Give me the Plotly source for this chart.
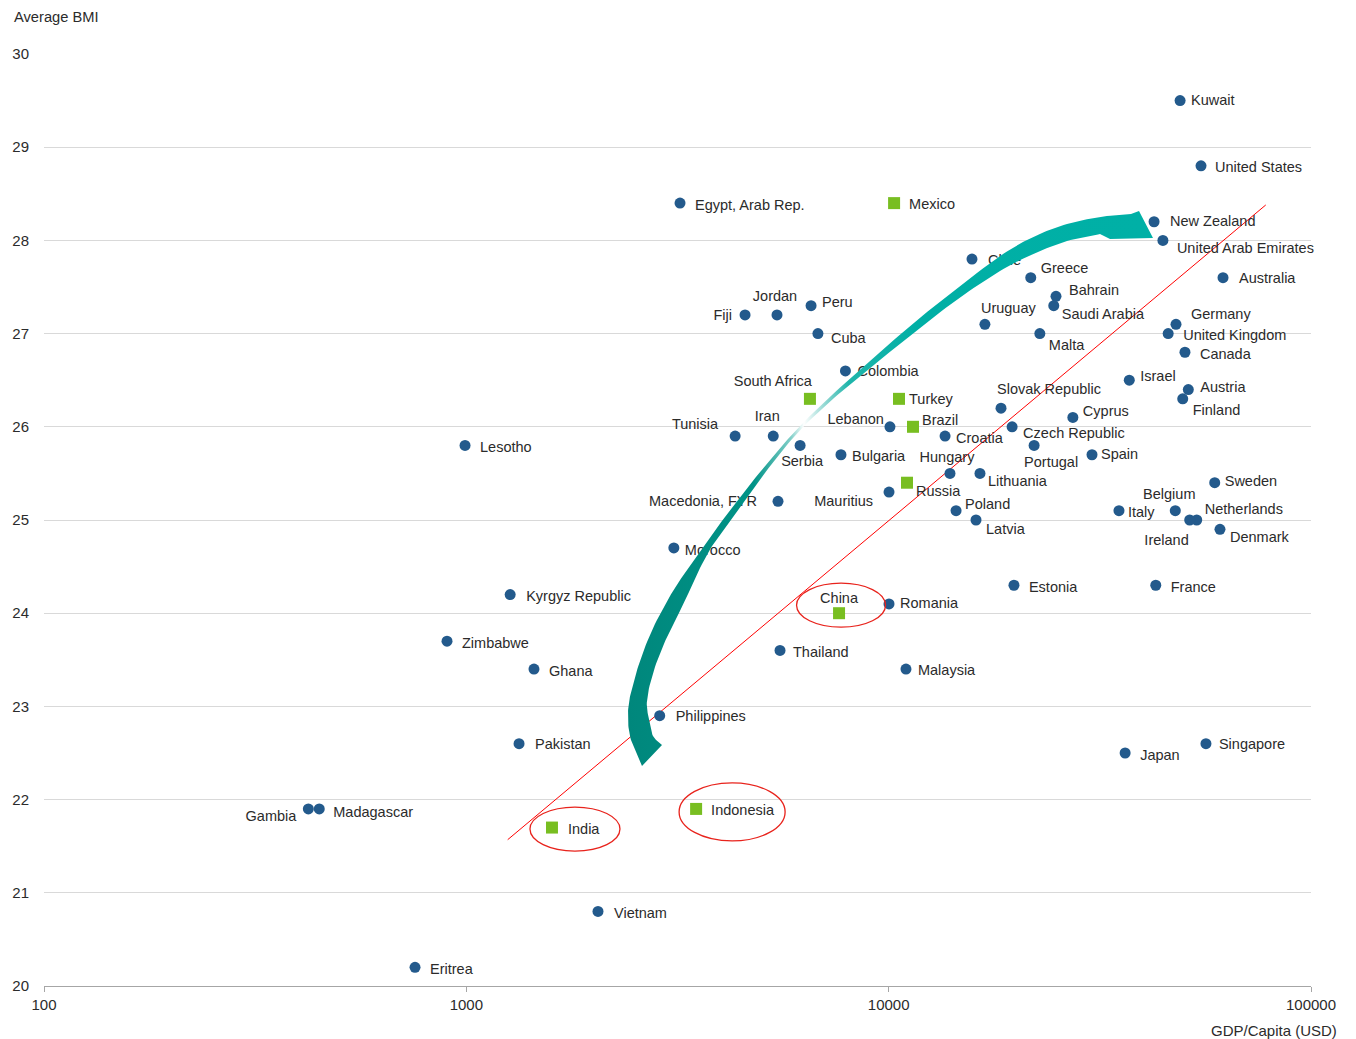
import math
import plotly.graph_objects as go

# emerging markets (green squares)
em_countries = ["Mexico", "South Africa", "Turkey", "Brazil", "Russia", "China", "Indonesia", "India"]
em_gdp = [10300, 6510, 10580, 11420, 11050, 7630, 3500, 1595]
em_bmi = [28.4, 26.3, 26.3, 26.0, 25.4, 24.0, 21.9, 21.7]

# all other countries (blue dots)
other_countries = [
    "Kuwait", "United States", "Egypt, Arab Rep.", "New Zealand", "United Arab Emirates",
    "Chile", "Greece", "Australia", "Bahrain", "Saudi Arabia", "Peru", "Fiji", "Jordan",
    "Cuba", "Uruguay", "Malta", "Germany", "United Kingdom", "Canada", "Colombia",
    "Israel", "Austria", "Finland", "Slovak Republic", "Cyprus", "Lebanon",
    "Czech Republic", "Tunisia", "Iran", "Croatia", "Lesotho", "Serbia", "Portugal",
    "Bulgaria", "Spain", "Hungary", "Lithuania", "Sweden", "Mauritius", "Macedonia, FYR",
    "Poland", "Italy", "Belgium", "Latvia", "Netherlands", "Ireland", "Denmark",
    "Morocco", "Estonia", "France", "Kyrgyz Republic", "Romania", "Zimbabwe", "Thailand",
    "Ghana", "Malaysia", "Philippines", "Pakistan", "Japan", "Singapore", "Gambia",
    "Madagascar", "Vietnam", "Eritrea",
]
other_gdp = [
    48980, 54900, 3206, 42500, 44600,
    15750, 21700, 61900, 24900, 24600, 6550, 4570, 5440,
    6800, 16900, 22800, 47900, 45900, 50300, 7900,
    37130, 51230, 49690, 18450, 27300, 10070,
    19600, 4330, 5330, 13600, 993, 6170, 22100,
    7710, 30300, 13970, 16450, 59160, 10020, 5470,
    14440, 35100, 47720, 16100, 53630, 51620, 60880,
    3100, 19800, 42900, 1270, 10020, 900, 5530,
    1446, 10990, 2870, 1333, 36300, 56400, 422.6,
    448.5, 2050, 756,
]
other_bmi = [
    29.5, 28.8, 28.4, 28.2, 28.0,
    27.8, 27.6, 27.6, 27.4, 27.3, 27.3, 27.2, 27.2,
    27.0, 27.1, 27.0, 27.1, 27.0, 26.8, 26.6,
    26.5, 26.4, 26.3, 26.2, 26.1, 26.0,
    26.0, 25.9, 25.9, 25.9, 25.8, 25.8, 25.8,
    25.7, 25.7, 25.5, 25.5, 25.4, 25.3, 25.2,
    25.1, 25.1, 25.1, 25.0, 25.0, 25.0, 24.9,
    24.7, 24.3, 24.3, 24.2, 24.1, 23.7, 23.6,
    23.4, 23.4, 22.9, 22.6, 22.5, 22.6, 21.9,
    21.9, 20.8, 20.2,
]

# trend line end points
trend_gdp = [1253, 78140]
trend_bmi = [21.57, 28.38]

BLUE = "#235a8c"
GREEN = "#78be21"
TEXT = "#2b2b2b"
FONT = "Liberation Sans, Arial, sans-serif"

# label placement: (anchor, dx px, dy px downwards); default right of the point
label_pos = {
    "Kuwait": ("left", 11, -1), "United States": ("left", 14, 1),
    "Egypt, Arab Rep.": ("left", 15, 1), "Mexico": ("left", 15, 0),
    "New Zealand": ("left", 16, -1), "United Arab Emirates": ("left", 14, 7),
    "Chile": ("left", 16, 0), "Greece": ("left", 10, -10), "Australia": ("left", 16, 0),
    "Bahrain": ("left", 13, -7), "Saudi Arabia": ("left", 8, 8), "Uruguay": ("left", -4, -17),
    "Malta": ("left", 9, 11), "Germany": ("left", 15, -11), "United Kingdom": ("left", 15, 1),
    "Canada": ("left", 15, 1), "Peru": ("left", 11, -4), "Jordan": ("center", -2, -20),
    "Fiji": ("right", -13, -1), "Cuba": ("left", 13, 4), "Colombia": ("left", 12, -1),
    "South Africa": ("right", 2, -18), "Turkey": ("left", 10, 0), "Israel": ("left", 11, -5),
    "Austria": ("left", 12, -3), "Finland": ("left", 10, 11), "Slovak Republic": ("left", -4, -20),
    "Cyprus": ("left", 10, -7), "Lebanon": ("right", -6, -8), "Brazil": ("left", 9, -7),
    "Czech Republic": ("left", 11, 6), "Tunisia": ("right", -17, -13), "Iran": ("center", -6, -21),
    "Croatia": ("left", 11, 1), "Lesotho": ("left", 15, 1), "Serbia": ("center", 2, 15),
    "Portugal": ("left", -10, 16), "Bulgaria": ("left", 11, 1), "Spain": ("left", 9, -1),
    "Hungary": ("center", -3, -17), "Lithuania": ("left", 8, 7), "Russia": ("left", 9, 8),
    "Sweden": ("left", 10, -2), "Mauritius": ("right", -16, 8), "Macedonia, FYR": ("right", -21, -1),
    "Poland": ("left", 9, -7), "Italy": ("left", 9, 1), "Belgium": ("center", -6, -17),
    "Latvia": ("left", 10, 8), "Netherlands": ("left", 8, -12), "Ireland": ("right", -1, 19),
    "Denmark": ("left", 10, 7), "Morocco": ("left", 11, 1), "Estonia": ("left", 15, 1),
    "France": ("left", 15, 1), "Kyrgyz Republic": ("left", 16, 1), "Romania": ("left", 11, -2),
    "China": ("center", 0, -16), "Zimbabwe": ("left", 15, 1), "Thailand": ("left", 13, 1),
    "Ghana": ("left", 15, 1), "Malaysia": ("left", 12, 0), "Philippines": ("left", 16, 0),
    "Pakistan": ("left", 16, 0), "Japan": ("left", 15, 1), "Singapore": ("left", 13, 0),
    "Gambia": ("right", -12, 6), "Madagascar": ("left", 14, 2), "Indonesia": ("left", 15, 0),
    "India": ("left", 16, 1), "Vietnam": ("left", 16, 1), "Eritrea": ("left", 15, 1),
}
anchor_to_pos = {"left": "middle right", "right": "middle left", "center": "middle center"}
LABEL_DROP = 2  # text baseline nudge

# highlighted countries: ellipse offset from the point and radii (px)
circled = {
    "China": (2, -8, 44.5, 22),
    "India": (23, 1.5, 45, 22),
    "Indonesia": (36, 3, 53, 29),
}

# plot area in page pixels (used by the overlay axes for labels and decorations)
X0, X1, Y0, Y1 = 44, 1311, 54, 986


def to_px(gdp):
    return X0 + (math.log10(gdp) - 2) * (X1 - X0) / 3


def to_py(bmi):
    return Y1 - (bmi - 20) * (Y1 - Y0) / 10


def smooth(pts, n=10):
    # catmull-rom through the outline guide points
    ext = [pts[0]] + pts + [pts[-1]]
    out = []
    for i in range(1, len(ext) - 2):
        p0, p1, p2, p3 = ext[i - 1], ext[i], ext[i + 1], ext[i + 2]
        for k in range(n):
            t = k / n
            t2, t3 = t * t, t * t * t
            out.append(tuple(
                0.5 * (2 * p1[j] + (-p0[j] + p2[j]) * t
                       + (2 * p0[j] - 5 * p1[j] + 4 * p2[j] - p3[j]) * t2
                       + (-p0[j] + 3 * p1[j] - 3 * p2[j] + p3[j]) * t3)
                for j in range(2)))
    out.append(pts[-1])
    return out


# curved arrow guide points, page pixels
arrow_outer = [(642, 766), (631, 740), (628, 720), (629, 702), (633, 685), (640, 661),
               (653, 628), (673, 591), (692, 563), (710, 537), (741, 496), (770, 460),
               (800, 426), (833, 394), (870, 361), (910, 326), (955, 290), (1000, 256),
               (1033, 237), (1067, 224), (1100, 217), (1131, 214)]
arrow_head = [(1139, 211), (1153, 238), (1110, 239)]
arrow_inner = [(1100, 234), (1067, 241), (1033, 254), (1000, 271), (955, 301), (910, 336),
               (870, 368), (834, 398), (802, 428), (774, 461), (746, 499), (716, 540),
               (700, 568), (684, 603), (667, 637), (654, 670), (647, 700), (649, 720),
               (653, 736), (662, 745)]

outline = smooth(arrow_outer) + arrow_head + smooth(arrow_inner)
outline.append(outline[0])
arrow_x = [p[0] for p in outline]
arrow_y = [p[1] for p in outline]

# country labels, placed next to their points
lab_x, lab_y, lab_text, lab_where = [], [], [], []
for names, gdps, bmis in [(other_countries, other_gdp, other_bmi), (em_countries, em_gdp, em_bmi)]:
    for name, g, b in zip(names, gdps, bmis):
        anchor, dx, dy = label_pos.get(name, ("left", 14, 0))
        lab_x.append(to_px(g) + dx)
        lab_y.append(to_py(b) + dy + LABEL_DROP)
        lab_text.append(name)
        lab_where.append(anchor_to_pos[anchor])

fig = go.Figure()

fig.add_trace(go.Scatter(
    x=trend_gdp, y=trend_bmi, mode="lines",
    line=dict(color="#ff0000", width=1), hoverinfo="skip",
))
fig.add_trace(go.Scatter(
    x=other_gdp, y=other_bmi, mode="markers", text=other_countries,
    marker=dict(color=BLUE, size=11, symbol="circle"),
))
fig.add_trace(go.Scatter(
    x=em_gdp, y=em_bmi, mode="markers", text=em_countries,
    marker=dict(color=GREEN, size=12, symbol="square"),
))
fig.add_trace(go.Scatter(
    x=lab_x, y=lab_y, xaxis="x2", yaxis="y2", mode="text",
    text=lab_text, textposition=lab_where, cliponaxis=False,
    textfont=dict(family=FONT, size=14.5, color=TEXT), hoverinfo="skip",
))
fig.add_trace(go.Scatter(
    x=arrow_x, y=arrow_y, xaxis="x2", yaxis="y2", mode="lines",
    line=dict(width=0), fill="toself", fillcolor="#00ada3",
    fillgradient=dict(type="horizontal", colorscale=[
        [0.0, "#00877c"], [0.24, "#009387"], [0.31, "#80cfc8"], [0.335, "#ffffff"],
        [0.37, "#9fdcd7"], [0.42, "#1fb5ab"], [0.55, "#00afa5"], [1.0, "#00b0a6"],
    ]),
    hoverinfo="skip",
))

annotations = [
    dict(x=0, y=1, xref="paper", yref="paper", text="Average BMI", showarrow=False,
         xanchor="left", yanchor="middle", xshift=-32, yshift=37,
         font=dict(size=14.7, color=TEXT)),
    dict(x=1, y=0, xref="paper", yref="paper", text="GDP/Capita (USD)", showarrow=False,
         xanchor="right", yanchor="middle", xshift=28, yshift=-44,
         font=dict(size=15, color=TEXT)),
]

shapes = []
for name, (ox, oy, rx, ry) in circled.items():
    i = em_countries.index(name)
    cx = to_px(em_gdp[i]) + ox
    cy = to_py(em_bmi[i]) + oy
    shapes.append(dict(
        type="circle", xref="x2", yref="y2",
        x0=cx - rx, x1=cx + rx, y0=cy - ry, y1=cy + ry,
        line=dict(color="#e8231c", width=1.3),
    ))

fig.update_layout(
    width=1356, height=1039,
    margin=dict(l=X0, r=1356 - X1, t=Y0, b=1039 - Y1),
    plot_bgcolor="white", paper_bgcolor="white",
    showlegend=False,
    font=dict(family=FONT, size=14, color=TEXT),
    xaxis=dict(
        type="log", range=[2, 5],
        tickvals=[100, 1000, 10000, 100000], ticktext=["100", "1000", "10000", "100000"],
        ticks="outside", ticklen=5, tickcolor="#a6a6a6",
        showline=True, linecolor="#a6a6a6", linewidth=1,
        showgrid=False, zeroline=False, tickfont=dict(size=15, color=TEXT),
    ),
    yaxis=dict(
        range=[20, 30], dtick=1, showgrid=True, gridcolor="#d9d9d9",
        showline=False, zeroline=False, ticks="", ticklabelstandoff=14,
        tickfont=dict(size=15, color=TEXT),
    ),
    xaxis2=dict(overlaying="x", anchor="y2", range=[X0, X1], visible=False),
    yaxis2=dict(overlaying="y", anchor="x2", range=[Y1, Y0], visible=False),
    annotations=annotations,
    shapes=shapes,
)

fig.write_html("out.html", config={"displayModeBar": False},
               post_script="document.body.style.margin='0';")
